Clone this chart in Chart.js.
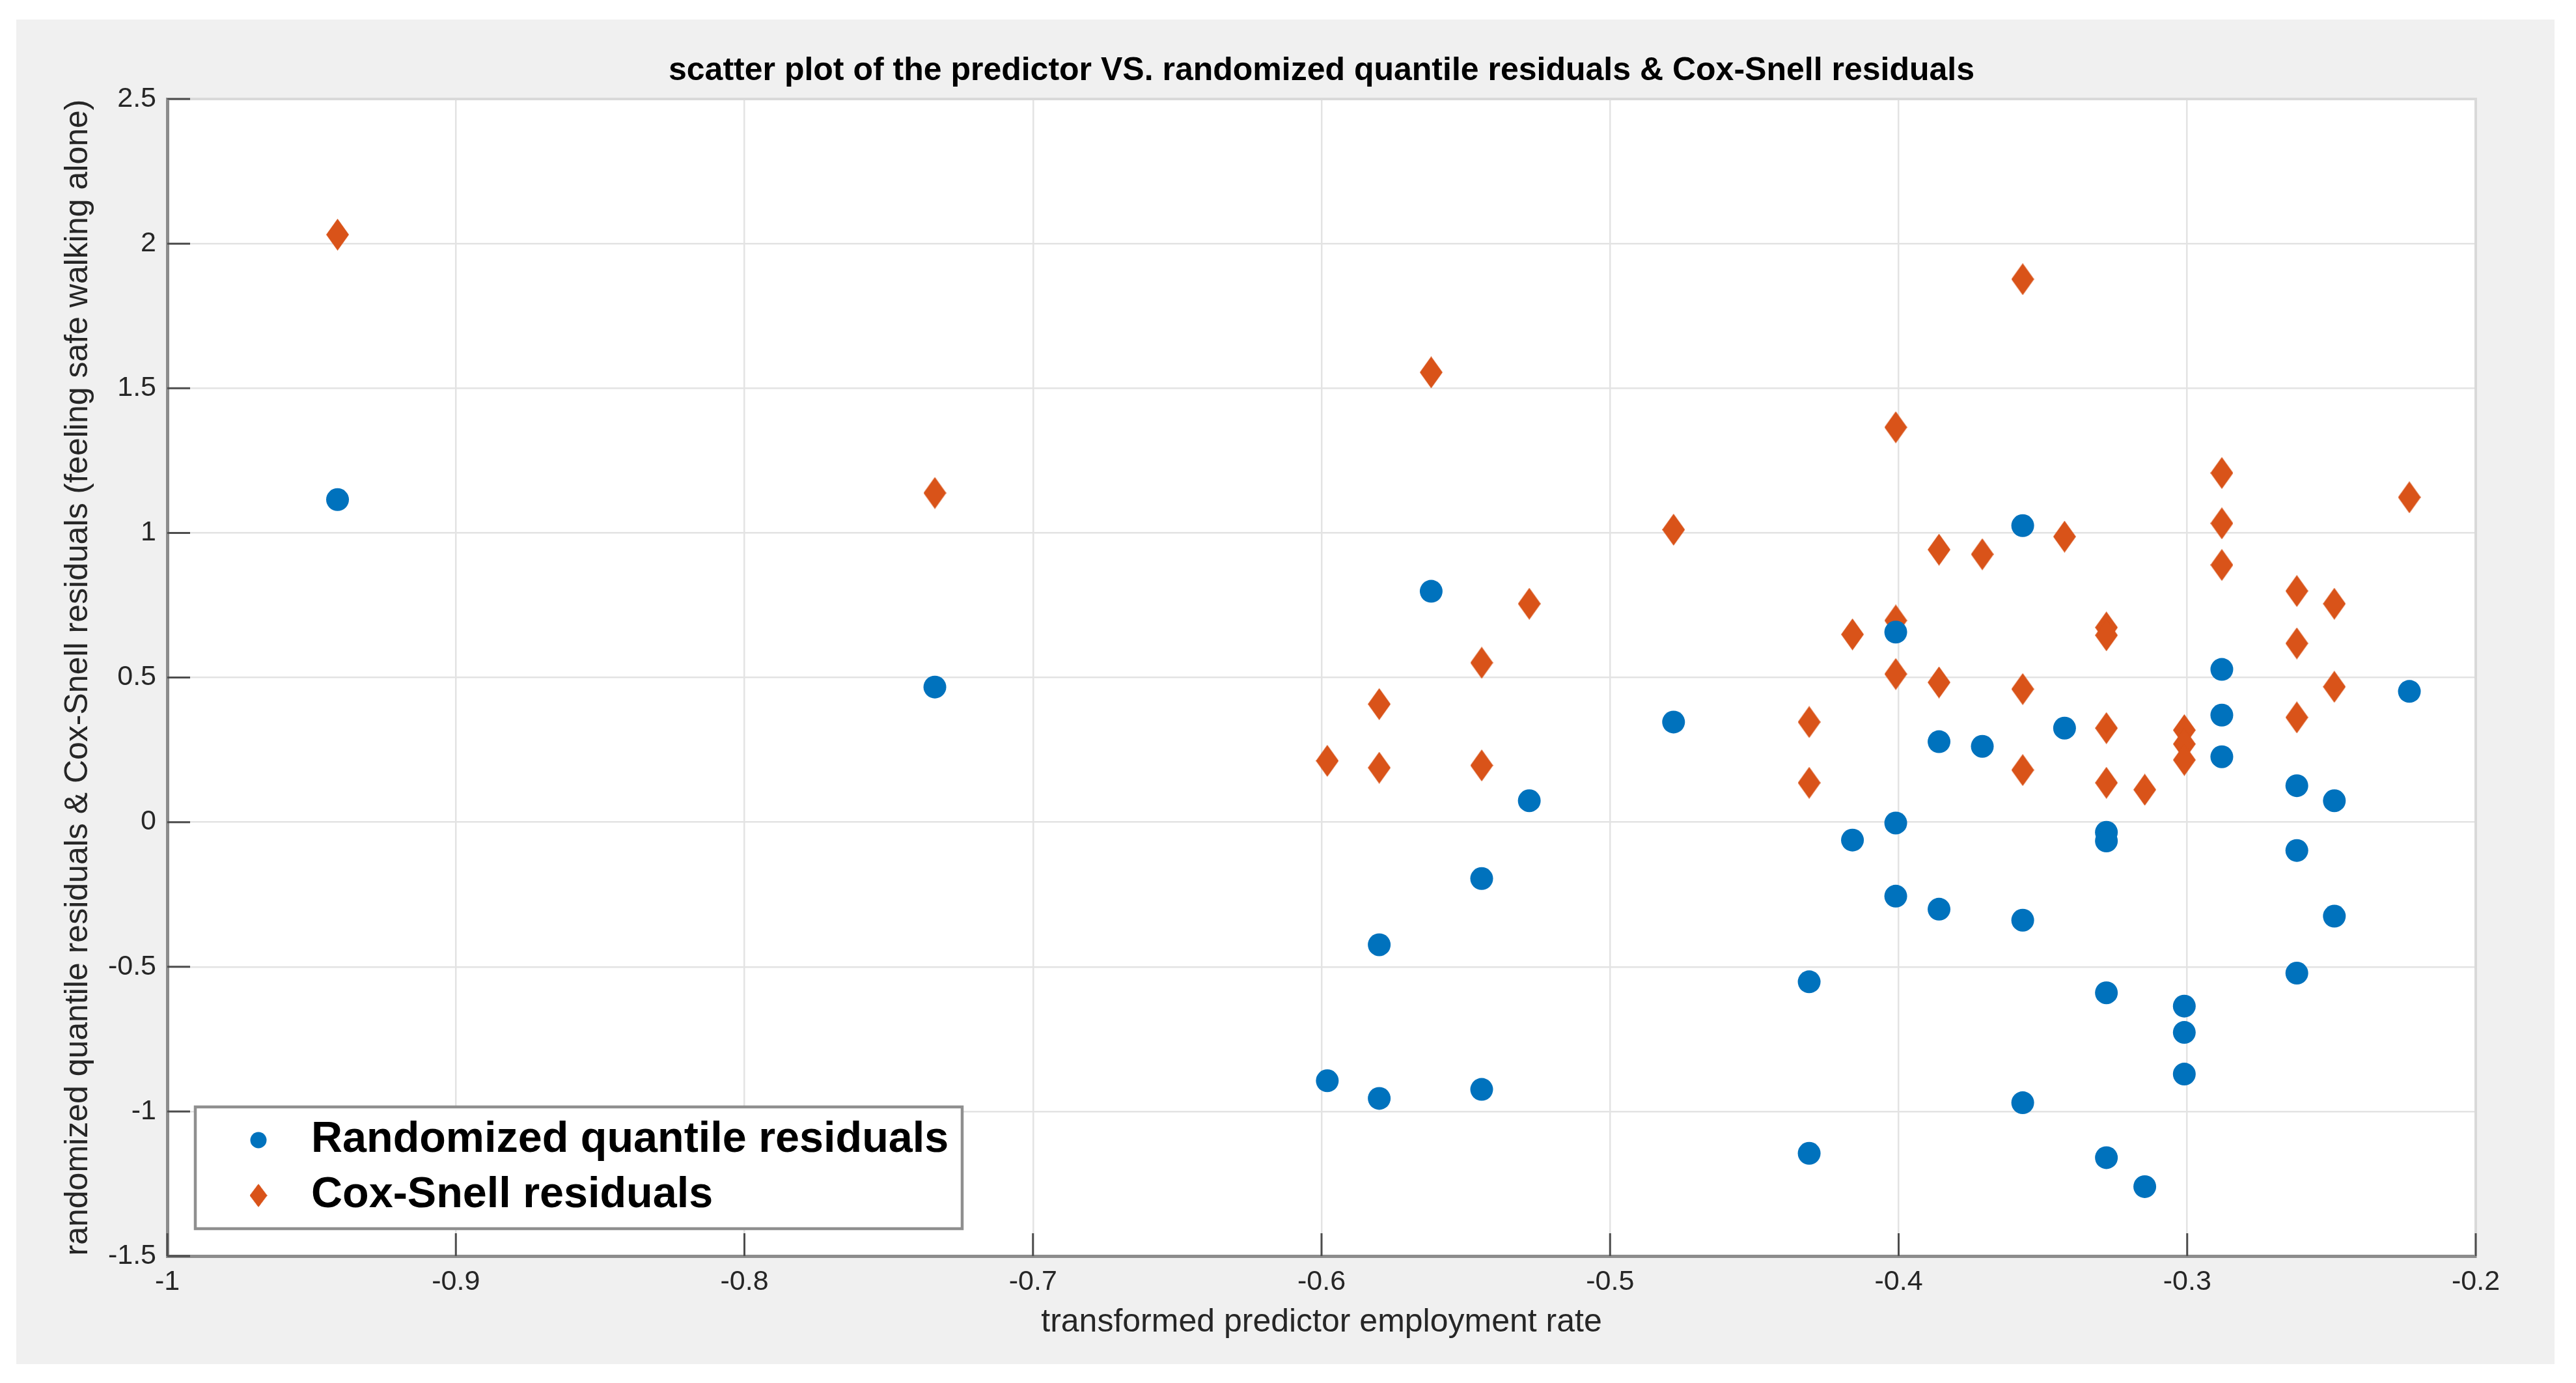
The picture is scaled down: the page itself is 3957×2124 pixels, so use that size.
<!DOCTYPE html>
<html>
<head>
<meta charset="utf-8">
<script src="https://cdn.jsdelivr.net/npm/chart.js@4.4.1/dist/chart.umd.min.js"></script>
<style>
  html, body { margin: 0; padding: 0; background: #ffffff; }
  canvas { display: block; }
</style>
</head>
<body>
<canvas id="chart" width="3957" height="2124"></canvas>
<script>
// predictor values (x) shared by both residual series
const predictor = [
  -0.941, -0.734, -0.598, -0.580, -0.580, -0.562, -0.5445, -0.5445, -0.528, -0.478,
  -0.431, -0.431, -0.416, -0.401, -0.401, -0.401, -0.386, -0.386, -0.371, -0.357,
  -0.357, -0.357, -0.3425, -0.328, -0.328, -0.328, -0.328, -0.3147, -0.301, -0.301,
  -0.301, -0.288, -0.288, -0.288, -0.262, -0.262, -0.262, -0.249, -0.249, -0.223
];
// randomized quantile residuals
const rqResiduals = [
  1.115, 0.467, -0.894, -0.424, -0.955, 0.798, -0.195, -0.924, 0.074, 0.346,
  -0.552, -1.145, -0.062, 0.657, -0.003, -0.256, 0.278, -0.301, 0.262, 1.025,
  -0.339, -0.970, 0.325, -0.035, -0.065, -0.590, -1.160, -1.260, -0.636, -0.727,
  -0.871, 0.528, 0.370, 0.226, 0.126, -0.098, -0.522, 0.074, -0.325, 0.452
];
// Cox-Snell residuals
const csResiduals = [
  2.031, 1.138, 0.212, 0.408, 0.188, 1.555, 0.551, 0.196, 0.755, 1.011,
  0.346, 0.136, 0.649, 1.365, 0.697, 0.512, 0.942, 0.483, 0.926, 1.877,
  0.460, 0.180, 0.987, 0.673, 0.646, 0.325, 0.136, 0.112, 0.318, 0.270,
  0.215, 1.207, 1.033, 0.889, 0.799, 0.618, 0.362, 0.755, 0.468, 1.123
];

const xTicks = [-1, -0.9, -0.8, -0.7, -0.6, -0.5, -0.4, -0.3, -0.2];
const xTickLabels = ['-1', '-0.9', '-0.8', '-0.7', '-0.6', '-0.5', '-0.4', '-0.3', '-0.2'];
const yTicks = [-1.5, -1, -0.5, 0, 0.5, 1, 1.5, 2, 2.5];
const yTickLabels = ['-1.5', '-1', '-0.5', '0', '0.5', '1', '1.5', '2', '2.5'];

const seriesNames = ['Randomized quantile residuals', 'Cox-Snell residuals'];
const titleText = 'scatter plot of the predictor VS. randomized quantile residuals & Cox-Snell residuals';
const xTitle = 'transformed predictor employment rate';
const yTitle = 'randomized quantile residuals & Cox-Snell residuals (feeling safe walking alone)';

const BLUE = '#0072BD';
const ORANGE = '#D95319';
const FONT = '"Liberation Sans", Arial, Helvetica, sans-serif';

function makeDiamond(w, h, color) {
    const c = document.createElement('canvas');
    c.width = w; c.height = h;
    const g = c.getContext('2d');
    g.fillStyle = color;
    g.beginPath();
    g.moveTo(w / 2, 0);
    g.lineTo(w, h / 2);
    g.lineTo(w / 2, h);
    g.lineTo(0, h / 2);
    g.closePath();
    g.fill();
    return c;
}
const diamond = makeDiamond(35, 49, ORANGE);

// matlab-like figure: grey background, title, inward ticks, legend box
const matlabFrame = {
    id: 'matlabFrame',
    beforeDraw(chart) {
        const {ctx, chartArea: a} = chart;
        ctx.save();
        ctx.fillStyle = '#ffffff';
        ctx.fillRect(0, 0, chart.width, chart.height);
        ctx.fillStyle = '#f0f0f0';
        ctx.fillRect(25, 30, 3899, 2065);
        ctx.fillStyle = '#ffffff';
        ctx.fillRect(a.left, a.top, a.right - a.left, a.bottom - a.top);
        ctx.restore();
    },
    afterDraw(chart) {
        const {ctx, chartArea: a, scales} = chart;
        ctx.save();

        // top / right box edges
        ctx.strokeStyle = '#d9d9d9';
        ctx.lineWidth = 4;
        ctx.beginPath();
        ctx.moveTo(a.left, a.top); ctx.lineTo(a.right, a.top); ctx.lineTo(a.right, a.bottom);
        ctx.stroke();

        // inward tick marks
        ctx.strokeStyle = '#4d4d4d';
        ctx.lineWidth = 3;
        ctx.beginPath();
        scales.y.ticks.forEach(t => {
            const py = scales.y.getPixelForValue(t.value);
            ctx.moveTo(a.left, py); ctx.lineTo(a.left + 35, py);
        });
        scales.x.ticks.forEach(t => {
            const px = scales.x.getPixelForValue(t.value);
            ctx.moveTo(px, a.bottom); ctx.lineTo(px, a.bottom - 35);
        });
        ctx.stroke();

        // title
        ctx.fillStyle = '#000000';
        ctx.font = 'bold 50px ' + FONT;
        ctx.textAlign = 'center';
        ctx.textBaseline = 'alphabetic';
        ctx.fillText(titleText, (a.left + a.right) / 2, 123);

        // legend
        ctx.fillStyle = '#ffffff';
        ctx.fillRect(300, 1700, 1178, 187);
        ctx.strokeStyle = '#8f8f8f';
        ctx.lineWidth = 4.5;
        ctx.strokeRect(300, 1700, 1178, 187);

        ctx.fillStyle = BLUE;
        ctx.beginPath();
        ctx.arc(397, 1751, 12.5, 0, Math.PI * 2);
        ctx.fill();
        ctx.drawImage(diamond, 397 - 13.5, 1836 - 18, 27, 36);

        ctx.fillStyle = '#000000';
        ctx.font = 'bold 66.5px ' + FONT;
        ctx.textAlign = 'left';
        ctx.textBaseline = 'middle';
        ctx.fillText(seriesNames[0], 478, 1751);
        ctx.fillText(seriesNames[1], 478, 1836);
        ctx.restore();
    }
};

new Chart(document.getElementById('chart'), {
    type: 'scatter',
    data: {
        datasets: [
            {
                label: seriesNames[0],
                data: predictor.map((x, i) => ({x: x, y: rqResiduals[i]})),
                backgroundColor: BLUE,
                borderWidth: 0,
                pointStyle: 'circle',
                pointRadius: 17.5
            },
            {
                label: seriesNames[1],
                data: predictor.map((x, i) => ({x: x, y: csResiduals[i]})),
                backgroundColor: ORANGE,
                borderWidth: 0,
                pointStyle: diamond,
                pointRadius: 18
            }
        ]
    },
    options: {
        responsive: false,
        devicePixelRatio: 1,
        animation: false,
        layout: { padding: { left: 0, top: 152, right: 154, bottom: 0 } },
        plugins: {
            legend: { display: false },
            tooltip: { enabled: false },
            title: { display: false }
        },
        scales: {
            x: {
                type: 'linear',
                min: -1,
                max: -0.2,
                afterBuildTicks: s => { s.ticks = xTicks.map(v => ({value: v})); },
                afterFit: s => { s.height = 195; },
                ticks: {
                    autoSkip: false,
                    maxRotation: 0,
                    padding: 14,
                    color: '#262626',
                    font: { family: FONT, size: 43 },
                    callback: (v, i) => xTickLabels[i]
                },
                grid: { color: '#e3e3e3', lineWidth: 2.5, drawTicks: false },
                border: { display: true, color: '#8c8c8c', width: 5 },
                title: {
                    display: true,
                    text: xTitle,
                    color: '#262626',
                    font: { family: FONT, size: 50 },
                    padding: { top: 0, bottom: 63 }
                }
            },
            y: {
                type: 'linear',
                min: -1.5,
                max: 2.5,
                afterBuildTicks: s => { s.ticks = yTicks.map(v => ({value: v})); },
                afterFit: s => { s.width = 257; },
                ticks: {
                    autoSkip: false,
                    padding: 17,
                    color: '#262626',
                    font: { family: FONT, size: 43 },
                    callback: (v, i) => yTickLabels[i]
                },
                grid: { color: '#e3e3e3', lineWidth: 2.5, drawTicks: false },
                border: { display: true, color: '#8c8c8c', width: 5 },
                title: {
                    display: true,
                    text: yTitle,
                    color: '#262626',
                    font: { family: FONT, size: 50 },
                    padding: { top: 90, bottom: 0 }
                }
            }
        }
    },
    plugins: [matlabFrame]
});
</script>
</body>
</html>
